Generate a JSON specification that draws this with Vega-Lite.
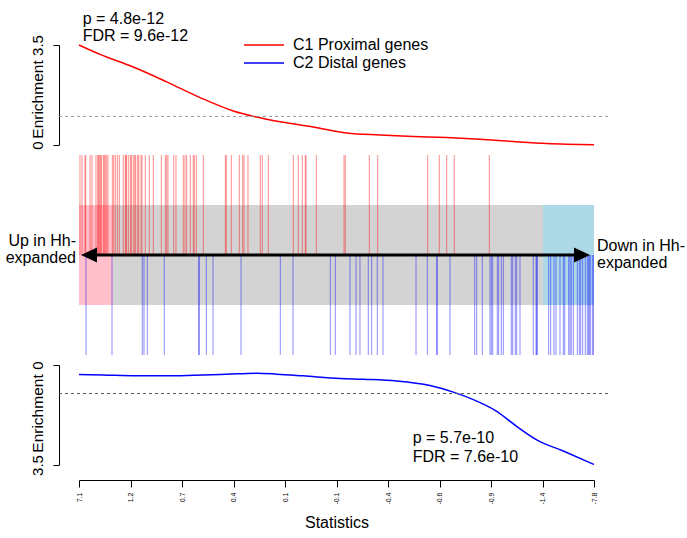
{
  "$schema": "https://vega.github.io/schema/vega-lite/v6.json",
  "padding": {"left": 5, "top": 10, "right": 0, "bottom": 0},
  "config": {"view": {"stroke": null}, "font": "Liberation Sans"},
  "bounds": "flush",
  "spacing": 10,
  "resolve": {"scale": {"color": "shared"}, "legend": {"color": "shared"}},
  "vconcat": [
    {
      "width": 515,
      "height": 100,
      "encoding": {
        "x": {"field": "rank", "type": "quantitative", "scale": {"domain": [0, 10000], "nice": false, "zero": false}, "axis": null}
      },
      "layer": [
        {
          "data": {"values": [
            {"rank": 0, "value": 3.5, "set": "C1 Proximal genes"},
            {"rank": 408, "value": 3.17, "set": "C1 Proximal genes"},
            {"rank": 1054, "value": 2.73, "set": "C1 Proximal genes"},
            {"rank": 1703, "value": 2.21, "set": "C1 Proximal genes"},
            {"rank": 2350, "value": 1.66, "set": "C1 Proximal genes"},
            {"rank": 2996, "value": 1.19, "set": "C1 Proximal genes"},
            {"rank": 3645, "value": 0.9, "set": "C1 Proximal genes"},
            {"rank": 3903, "value": 0.81, "set": "C1 Proximal genes"},
            {"rank": 4549, "value": 0.63, "set": "C1 Proximal genes"},
            {"rank": 5198, "value": 0.42, "set": "C1 Proximal genes"},
            {"rank": 5845, "value": 0.35, "set": "C1 Proximal genes"},
            {"rank": 6491, "value": 0.3, "set": "C1 Proximal genes"},
            {"rank": 7140, "value": 0.26, "set": "C1 Proximal genes"},
            {"rank": 7787, "value": 0.2, "set": "C1 Proximal genes"},
            {"rank": 8433, "value": 0.12, "set": "C1 Proximal genes"},
            {"rank": 9081, "value": 0.05, "set": "C1 Proximal genes"},
            {"rank": 10000, "value": 0.01, "set": "C1 Proximal genes"}
          ]},
          "mark": {"type": "line", "strokeWidth": 1.5, "interpolate": "monotone"},
          "encoding": {
            "y": {"field": "value", "type": "quantitative", "scale": {"domain": [0, 3.5], "nice": false, "zero": false},
              "axis": {"values": [0, 3.5], "format": ".1~f", "offset": 20, "tickSize": 6, "labelAngle": 270, "labelAlign": "center", "labelBaseline": "bottom", "labelPadding": 8, "labelFontSize": 15, "labelColor": "black", "labelFlush": false, "labelOverlap": false, "title": "Enrichment", "titleAngle": 270, "titleX": -14, "titleY": 54, "titleAlign": "center", "titleBaseline": "bottom", "titleFontSize": 15.5, "titleFontWeight": "normal", "titleColor": "black", "grid": false, "domainColor": "black", "tickColor": "black"}},
            "color": {"field": "set", "type": "nominal", "scale": {"domain": ["C1 Proximal genes", "C2 Distal genes"], "range": ["#ff0000", "#0000ff"]},
              "legend": {"orient": "none", "legendX": 177, "legendY": -8, "title": null, "symbolType": "M-5,0H5", "symbolSize": 64, "symbolStrokeWidth": 1.5, "labelFontSize": 16, "labelOffset": 21, "rowPadding": 2, "padding": 0, "labelColor": "black"}}
          }
        },
        {
          "data": {"values": [{"rank": -388, "rankEnd": 10311}]},
          "mark": {"type": "rule", "color": "#999999", "strokeDash": [3, 3], "strokeWidth": 1},
          "encoding": {"x2": {"field": "rankEnd"}, "y": {"datum": 1}}
        },
        {
          "data": {"values": [{"rank": 72, "label": "p = 4.8e-12\nFDR = 9.6e-12"}]},
          "mark": {"type": "text", "align": "left", "baseline": "alphabetic", "lineBreak": "\n", "fontSize": 16, "lineHeight": 17, "color": "black"},
          "encoding": {"y": {"datum": 4.235}, "text": {"field": "label"}}
        }
      ]
    },
    {
      "width": 515,
      "height": 200,
      "encoding": {
        "x": {"field": "rank", "type": "quantitative", "scale": {"domain": [0, 10000], "nice": false, "zero": false}, "axis": null},
        "y": {"datum": 0, "type": "quantitative", "scale": {"domain": [-1, 1], "nice": false, "zero": false}, "axis": null}
      },
      "layer": [
        {
          "data": {"values": [{"rank": 0, "rankEnd": 10000}]},
          "mark": {"type": "rect", "color": "#d3d3d3"},
          "encoding": {"x2": {"field": "rankEnd"}, "y": {"datum": -0.5}, "y2": {"datum": 0.5}}
        },
        {
          "data": {"values": [{"rank": 0, "rankEnd": 660}]},
          "mark": {"type": "rect", "color": "#ffc0cb"},
          "encoding": {"x2": {"field": "rankEnd"}, "y": {"datum": -0.5}, "y2": {"datum": 0.5}}
        },
        {
          "data": {"values": [{"rank": 9010, "rankEnd": 10000}]},
          "mark": {"type": "rect", "color": "#add8e6"},
          "encoding": {"x2": {"field": "rankEnd"}, "y": {"datum": -0.5}, "y2": {"datum": 0.5}}
        },
        {
          "data": {"values": [
            {"rank": 19}, {"rank": 58}, {"rank": 117}, {"rank": 130}, {"rank": 214}, {"rank": 252}, {"rank": 330}, {"rank": 363}, {"rank": 383}, {"rank": 394},
            {"rank": 421}, {"rank": 433}, {"rank": 472}, {"rank": 491}, {"rank": 511}, {"rank": 538}, {"rank": 563}, {"rank": 647}, {"rank": 674}, {"rank": 705},
            {"rank": 744}, {"rank": 783}, {"rank": 860}, {"rank": 899}, {"rank": 913}, {"rank": 926}, {"rank": 965}, {"rank": 1004}, {"rank": 1016}, {"rank": 1054},
            {"rank": 1082}, {"rank": 1101}, {"rank": 1140}, {"rank": 1159}, {"rank": 1204}, {"rank": 1223}, {"rank": 1287}, {"rank": 1365}, {"rank": 1443}, {"rank": 1598},
            {"rank": 1676}, {"rank": 1703}, {"rank": 1728}, {"rank": 1839}, {"rank": 1883}, {"rank": 2025}, {"rank": 2058}, {"rank": 2091}, {"rank": 2161}, {"rank": 2219},
            {"rank": 2239}, {"rank": 2278}, {"rank": 2414}, {"rank": 2841}, {"rank": 2860}, {"rank": 2957}, {"rank": 3113}, {"rank": 3179}, {"rank": 3204}, {"rank": 3281},
            {"rank": 3520}, {"rank": 3559}, {"rank": 3676}, {"rank": 4161}, {"rank": 4258}, {"rank": 4336}, {"rank": 4394}, {"rank": 4408}, {"rank": 4608}, {"rank": 5146},
            {"rank": 5171}, {"rank": 5637}, {"rank": 5800}, {"rank": 6771}, {"rank": 6996}, {"rank": 7140}, {"rank": 7287}, {"rank": 7967}
          ]},
          "mark": {"type": "rule", "color": "#ff0000", "opacity": 0.45, "strokeWidth": 1},
          "encoding": {"y": {"datum": 0}, "y2": {"datum": 1}}
        },
        {
          "data": {"values": [
            {"rank": 136}, {"rank": 641}, {"rank": 1229}, {"rank": 1262}, {"rank": 1326}, {"rank": 1656}, {"rank": 2324}, {"rank": 2336}, {"rank": 2472}, {"rank": 2602},
            {"rank": 3146}, {"rank": 3909}, {"rank": 4155}, {"rank": 4880}, {"rank": 4977}, {"rank": 5262}, {"rank": 5379}, {"rank": 5456}, {"rank": 5617}, {"rank": 5683},
            {"rank": 5792}, {"rank": 5903}, {"rank": 6544}, {"rank": 6763}, {"rank": 6945}, {"rank": 6957}, {"rank": 7204}, {"rank": 7683}, {"rank": 7722}, {"rank": 7831},
            {"rank": 7980}, {"rank": 8006}, {"rank": 8033}, {"rank": 8122}, {"rank": 8149}, {"rank": 8200}, {"rank": 8239}, {"rank": 8394}, {"rank": 8421}, {"rank": 8472},
            {"rank": 8499}, {"rank": 8563}, {"rank": 8821}, {"rank": 8874}, {"rank": 8887}, {"rank": 8899}, {"rank": 9120}, {"rank": 9159}, {"rank": 9223}, {"rank": 9262},
            {"rank": 9340}, {"rank": 9404}, {"rank": 9431}, {"rank": 9509}, {"rank": 9534}, {"rank": 9559}, {"rank": 9598}, {"rank": 9676}, {"rank": 9715}, {"rank": 9742},
            {"rank": 9780}, {"rank": 9831}, {"rank": 9870}, {"rank": 9897}, {"rank": 9909}, {"rank": 9936}, {"rank": 9975}, {"rank": 9987}
          ]},
          "mark": {"type": "rule", "color": "#0000ff", "opacity": 0.45, "strokeWidth": 1},
          "encoding": {"y": {"datum": -1}, "y2": {"datum": 0}}
        },
        {
          "data": {"values": [{"rank": 194, "rankEnd": 9767}]},
          "mark": {"type": "rule", "color": "black", "strokeWidth": 3},
          "encoding": {"x2": {"field": "rankEnd"}, "y": {"datum": 0}}
        },
        {
          "data": {"values": [{"rank": 194}]},
          "mark": {"type": "point", "shape": "M-1,0L1,-0.95L1,0.95Z", "filled": true, "color": "black", "opacity": 1, "size": 256},
          "encoding": {"y": {"datum": 0}}
        },
        {
          "data": {"values": [{"rank": 9767}]},
          "mark": {"type": "point", "shape": "M1,0L-1,-0.95L-1,0.95Z", "filled": true, "color": "black", "opacity": 1, "size": 256},
          "encoding": {"y": {"datum": 0}}
        },
        {
          "data": {"values": [{"rank": 0, "label": "Up in Hh-\nexpanded"}]},
          "mark": {"type": "text", "align": "right", "baseline": "alphabetic", "lineBreak": "\n", "fontSize": 16, "lineHeight": 17, "dx": -3, "color": "black"},
          "encoding": {"y": {"datum": 0.09}, "text": {"field": "label"}}
        },
        {
          "data": {"values": [{"rank": 10000, "label": "Down in Hh-\nexpanded"}]},
          "mark": {"type": "text", "align": "left", "baseline": "alphabetic", "lineBreak": "\n", "fontSize": 16, "lineHeight": 17, "dx": 3, "color": "black"},
          "encoding": {"y": {"datum": 0.04}, "text": {"field": "label"}}
        }
      ]
    },
    {
      "width": 515,
      "height": 100,
      "encoding": {
        "x": {"field": "rank", "type": "quantitative", "scale": {"domain": [0, 10000], "nice": false, "zero": false},
          "axis": {"values": [0, 1000, 2000, 3000, 4000, 5000, 6000, 7000, 8000, 9000, 10000],
            "labelExpr": "['7.1','1.2','0.7','0.4','0.1','-0.1','-0.4','-0.6','-0.9','-1.4','-7.8'][round(datum.value/1000)]",
            "labelAngle": 270, "labelAlign": "right", "labelBaseline": "middle", "labelFontSize": 7, "labelPadding": 5, "labelColor": "black", "labelFlush": false, "labelOverlap": false,
            "tickSize": 7, "offset": 15, "grid": false, "domainColor": "black", "tickColor": "black",
            "title": "Statistics", "titleFontSize": 16, "titleFontWeight": "normal", "titleColor": "black", "titlePadding": 10}}
      },
      "layer": [
        {
          "data": {"values": [
            {"rank": 0, "value": 0.33, "set": "C2 Distal genes"},
            {"rank": 472, "value": 0.35, "set": "C2 Distal genes"},
            {"rank": 1120, "value": 0.38, "set": "C2 Distal genes"},
            {"rank": 1767, "value": 0.38, "set": "C2 Distal genes"},
            {"rank": 2414, "value": 0.35, "set": "C2 Distal genes"},
            {"rank": 3062, "value": 0.31, "set": "C2 Distal genes"},
            {"rank": 3450, "value": 0.29, "set": "C2 Distal genes"},
            {"rank": 3839, "value": 0.32, "set": "C2 Distal genes"},
            {"rank": 4355, "value": 0.38, "set": "C2 Distal genes"},
            {"rank": 5068, "value": 0.47, "set": "C2 Distal genes"},
            {"rank": 5520, "value": 0.5, "set": "C2 Distal genes"},
            {"rank": 6169, "value": 0.56, "set": "C2 Distal genes"},
            {"rank": 6815, "value": 0.72, "set": "C2 Distal genes"},
            {"rank": 7268, "value": 0.95, "set": "C2 Distal genes"},
            {"rank": 7656, "value": 1.21, "set": "C2 Distal genes"},
            {"rank": 8111, "value": 1.62, "set": "C2 Distal genes"},
            {"rank": 8499, "value": 2.15, "set": "C2 Distal genes"},
            {"rank": 8887, "value": 2.62, "set": "C2 Distal genes"},
            {"rank": 9404, "value": 3.01, "set": "C2 Distal genes"},
            {"rank": 10000, "value": 3.48, "set": "C2 Distal genes"}
          ]},
          "mark": {"type": "line", "strokeWidth": 1.5, "interpolate": "monotone"},
          "encoding": {
            "y": {"field": "value", "type": "quantitative", "scale": {"domain": [0, 3.5], "nice": false, "zero": false, "reverse": true},
              "axis": {"values": [0, 3.5], "format": ".1~f", "offset": 20, "tickSize": 6, "labelAngle": 270, "labelAlign": "center", "labelBaseline": "bottom", "labelPadding": 8, "labelFontSize": 15, "labelColor": "black", "labelFlush": false, "labelOverlap": false, "title": "Enrichment", "titleAngle": 270, "titleX": -14, "titleY": 48, "titleAlign": "center", "titleBaseline": "bottom", "titleFontSize": 15.5, "titleFontWeight": "normal", "titleColor": "black", "grid": false, "domainColor": "black", "tickColor": "black"}},
            "color": {"field": "set", "type": "nominal", "scale": {"domain": ["C1 Proximal genes", "C2 Distal genes"], "range": ["#ff0000", "#0000ff"]},
              "legend": {"orient": "none", "legendX": 177, "legendY": -8, "title": null, "symbolType": "M-5,0H5", "symbolSize": 64, "symbolStrokeWidth": 1.5, "labelFontSize": 16, "labelOffset": 21, "rowPadding": 2, "padding": 0, "labelColor": "black"}}
          }
        },
        {
          "data": {"values": [{"rank": -388, "rankEnd": 10311}]},
          "mark": {"type": "rule", "color": "#555555", "strokeDash": [3, 3], "strokeWidth": 1},
          "encoding": {"x2": {"field": "rankEnd"}, "y": {"datum": 1}}
        },
        {
          "data": {"values": [{"rank": 6480, "label": "p = 5.7e-10\nFDR = 7.6e-10"}]},
          "mark": {"type": "text", "align": "left", "baseline": "alphabetic", "lineBreak": "\n", "fontSize": 16, "lineHeight": 19, "color": "black"},
          "encoding": {"y": {"datum": 2.74}, "text": {"field": "label"}}
        }
      ]
    }
  ]
}
